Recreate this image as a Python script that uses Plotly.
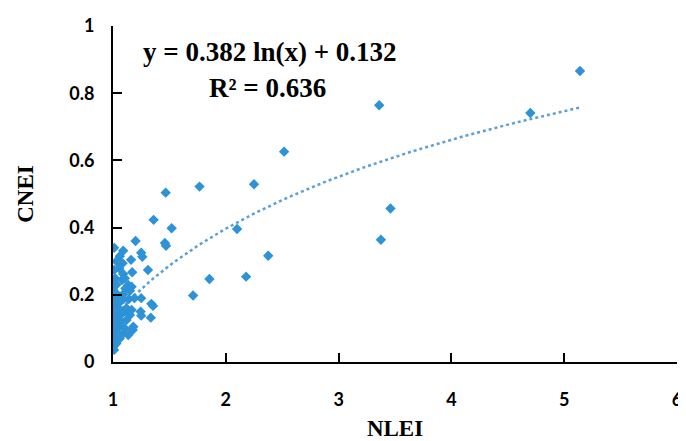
import numpy as np
import plotly.graph_objects as go

# NLEI (x) and CNEI (y) values
nlei = [5.14, 4.70, 3.36, 3.46, 3.375, 2.517, 2.25, 1.767, 2.10, 2.376, 2.18, 1.855, 1.71,
        1.467, 1.36, 1.52, 1.46, 1.47,
        1.20, 1.25, 1.26, 1.16, 1.31, 1.17, 1.01, 1.09, 1.06, 1.03, 1.085, 1.055, 1.01, 1.09,
        1.02, 1.08, 1.105, 1.0, 1.135, 1.165, 1.0, 1.11, 1.15, 1.09, 1.02, 1.09, 1.14, 1.19,
        1.25, 1.0, 1.045, 1.34, 1.355, 1.12, 1.165, 1.0, 1.06, 1.09, 1.245, 1.25, 1.335, 1.15,
        1.0, 1.075, 1.12, 1.015, 1.06, 1.105, 1.18, 1.175, 1.03, 1.09, 1.135, 1.0, 1.06, 1.0,
        1.03, 1.0, 1.01, 1.04, 1.02, 1.04, 1.05, 1.07, 1.03]
cnei = [0.866, 0.741, 0.764, 0.457, 0.364, 0.626, 0.529, 0.522, 0.396, 0.316, 0.254, 0.247, 0.198,
        0.504, 0.423, 0.398, 0.354, 0.346,
        0.360, 0.325, 0.313, 0.304, 0.274, 0.267, 0.340, 0.331, 0.315, 0.300, 0.294, 0.279, 0.274, 0.262,
        0.249, 0.244, 0.249, 0.234, 0.229, 0.224, 0.216, 0.219, 0.212, 0.202, 0.187, 0.187, 0.187, 0.190,
        0.190, 0.165, 0.160, 0.173, 0.167, 0.160, 0.155, 0.145, 0.140, 0.147, 0.150, 0.138, 0.132, 0.140,
        0.125, 0.120, 0.125, 0.105, 0.107, 0.100, 0.105, 0.095, 0.090, 0.085, 0.080, 0.075, 0.070, 0.060,
        0.055, 0.045, 0.036, 0.200, 0.130, 0.110, 0.175, 0.150, 0.230]

# Logarithmic trendline coefficients shown on the chart
coef_a = 0.382
coef_b = 0.132
r2 = 0.636

x_ticks = [1, 2, 3, 4, 5, 6]
y_ticks = [0, 0.2, 0.4, 0.6, 0.8, 1]
y_tick_text = ["0", "0.2", "0.4", "0.6", "0.8", "1"]

tx = np.linspace(min(nlei), max(nlei), 200)
ty = coef_a * np.log(tx) + coef_b

# page body has a default 8px margin; size the figure so it fits the window
OFF = 8
W, H = 686 - OFF, 441 - OFF
L, R, T, B = 113 - OFF, 9, 26 - OFF, 79
PW, PH = W - L - R, H - T - B


def px_to_paper(px, py):
    # px, py are window coordinates
    return (px - OFF - L) / PW, 1 - (py - OFF - T) / PH


fig = go.Figure()
fig.add_trace(go.Scatter(x=tx, y=ty, mode="lines",
                         line=dict(color="#5A9FD6", width=2.5, dash="dot"),
                         hoverinfo="skip", showlegend=False))
fig.add_trace(go.Scatter(x=nlei, y=cnei, mode="markers",
                         marker=dict(symbol="diamond", size=8, color="#2D92D6",
                                     line=dict(width=0)),
                         showlegend=False))

tick_font = dict(family="Lato", size=18, color="#000000", weight="bold")
title_font = dict(family="Liberation Serif", size=23, color="#000000", weight="bold")
eq_font = dict(family="Liberation Serif", size=27, color="#000000", weight="bold")

eq_x, eq_y = px_to_paper(270, 52)
r2_x, r2_y = px_to_paper(267, 88)

fig.update_layout(
    width=W, height=H,
    margin=dict(l=L, r=R, t=T, b=B, autoexpand=False),
    paper_bgcolor="white", plot_bgcolor="white",
    font=dict(family="Lato", color="#000000"),
    xaxis=dict(range=[1, 6], tickvals=x_ticks, showgrid=False, zeroline=False,
               showline=True, linecolor="#000000", linewidth=2,
               ticks="inside", ticklen=9, tickwidth=2, tickcolor="#000000",
               tickfont=tick_font, ticklabelstandoff=20, ticklabeloverflow="allow",
               automargin=False,
               title=dict(text="NLEI", font=title_font, standoff=12)),
    yaxis=dict(range=[0, 1], tickvals=y_ticks, ticktext=y_tick_text, showgrid=False, zeroline=False,
               showline=True, linecolor="#000000", linewidth=2,
               ticks="inside", ticklen=9, tickwidth=2, tickcolor="#000000",
               tickfont=tick_font, ticklabelstandoff=13, ticklabeloverflow="allow",
               automargin=False,
               title=dict(text="CNEI", font=title_font, standoff=29)),
    annotations=[
        dict(x=eq_x, y=eq_y, xref="paper", yref="paper", xanchor="center", yanchor="middle",
             showarrow=False, text=f"y = {coef_a} ln(x) + {coef_b}", font=eq_font),
        dict(x=r2_x, y=r2_y, xref="paper", yref="paper", xanchor="center", yanchor="middle",
             showarrow=False, text=f"R² = {r2}", font=eq_font),
    ],
)

fig.write_html("out.html")
